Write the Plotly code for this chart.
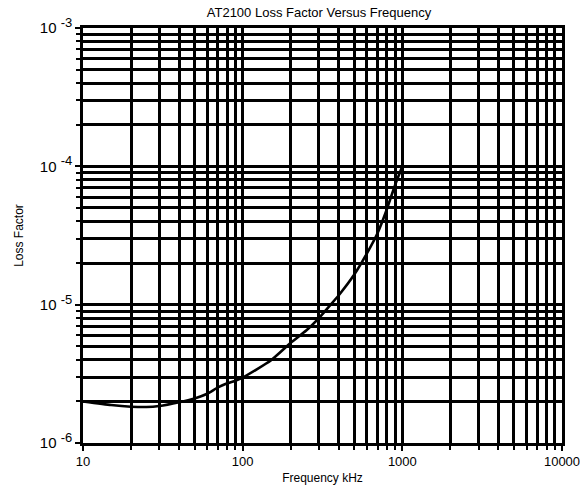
import plotly.graph_objects as go

freq_khz = [10, 15, 20, 25, 30, 40, 50, 60, 70, 80, 90, 100, 150, 200, 250, 300, 350, 400, 500, 600, 700, 800, 900, 1000]
loss_factor = [2.0e-6, 1.88e-6, 1.83e-6, 1.82e-6, 1.85e-6, 1.97e-6, 2.1e-6, 2.27e-6, 2.52e-6, 2.7e-6, 2.82e-6, 2.97e-6,
               3.95e-6, 5.3e-6, 6.5e-6, 8.0e-6, 9.8e-6, 1.17e-5, 1.65e-5, 2.35e-5, 3.3e-5, 4.9e-5, 7.3e-5, 1.0e-4]

x_ticks = [10, 100, 1000, 10000]
x_labels = ["10", "100", "1000", "10000"]
y_ticks = [1e-6, 1e-5, 1e-4, 1e-3]
y_exps = ["-6", "-5", "-4", "-3"]
y_labels = ["10 <sup><span style='font-size:13px'>%s</span></sup>" % e for e in y_exps]

x_minor = [m * 10 ** e for e in (1, 2, 3) for m in range(2, 10)]
y_minor = [m * 10.0 ** e for e in (-6, -5, -4) for m in range(2, 10)]

fig = go.Figure()
fig.add_trace(go.Scatter(x=freq_khz, y=loss_factor, mode="lines",
                         line=dict(color="black", width=2.6, shape="spline", smoothing=0.5),
                         showlegend=False, hoverinfo="skip"))

font = dict(family="Liberation Sans, Arial, sans-serif", color="black")
axis_common = dict(type="log", showgrid=True, gridcolor="black", gridwidth=2.6,
                   showline=True, linecolor="black", linewidth=2.5, mirror=True,
                   ticks="outside", ticklen=5, tickwidth=2, tickcolor="black",
                   zeroline=False, ticklabeloverflow="allow", automargin=False)

fig.update_xaxes(range=[1, 4], tickmode="array", tickvals=x_ticks, ticktext=x_labels,
                 tickfont=dict(size=13, **font),
                 minor=dict(tickmode="array", tickvals=x_minor, showgrid=True, gridcolor="black",
                            gridwidth=2.6, ticks="outside", ticklen=4, tickwidth=2, tickcolor="black"),
                 title=dict(text="Frequency kHz", font=dict(size=12, **font), standoff=6),
                 **axis_common)
fig.update_yaxes(range=[-6, -3], tickmode="array", tickvals=y_ticks, ticktext=y_labels,
                 tickfont=dict(size=15, **font),
                 minor=dict(tickmode="array", tickvals=y_minor, showgrid=True, gridcolor="black",
                            gridwidth=2.6, ticks="outside", ticklen=4, tickwidth=2, tickcolor="black"),
                 title=dict(text="Loss Factor", font=dict(size=12, **font), standoff=14),
                 **axis_common)

fig.update_layout(
    width=580, height=496,
    margin=dict(l=83, r=18, t=28, b=53),
    paper_bgcolor="white", plot_bgcolor="white",
    title=dict(text="AT2100 Loss Factor Versus Frequency", x=0.55, xanchor="center",
               y=0.975, yanchor="middle", font=dict(size=13, **font)),
    font=font,
)

fig.write_html("out.html")
